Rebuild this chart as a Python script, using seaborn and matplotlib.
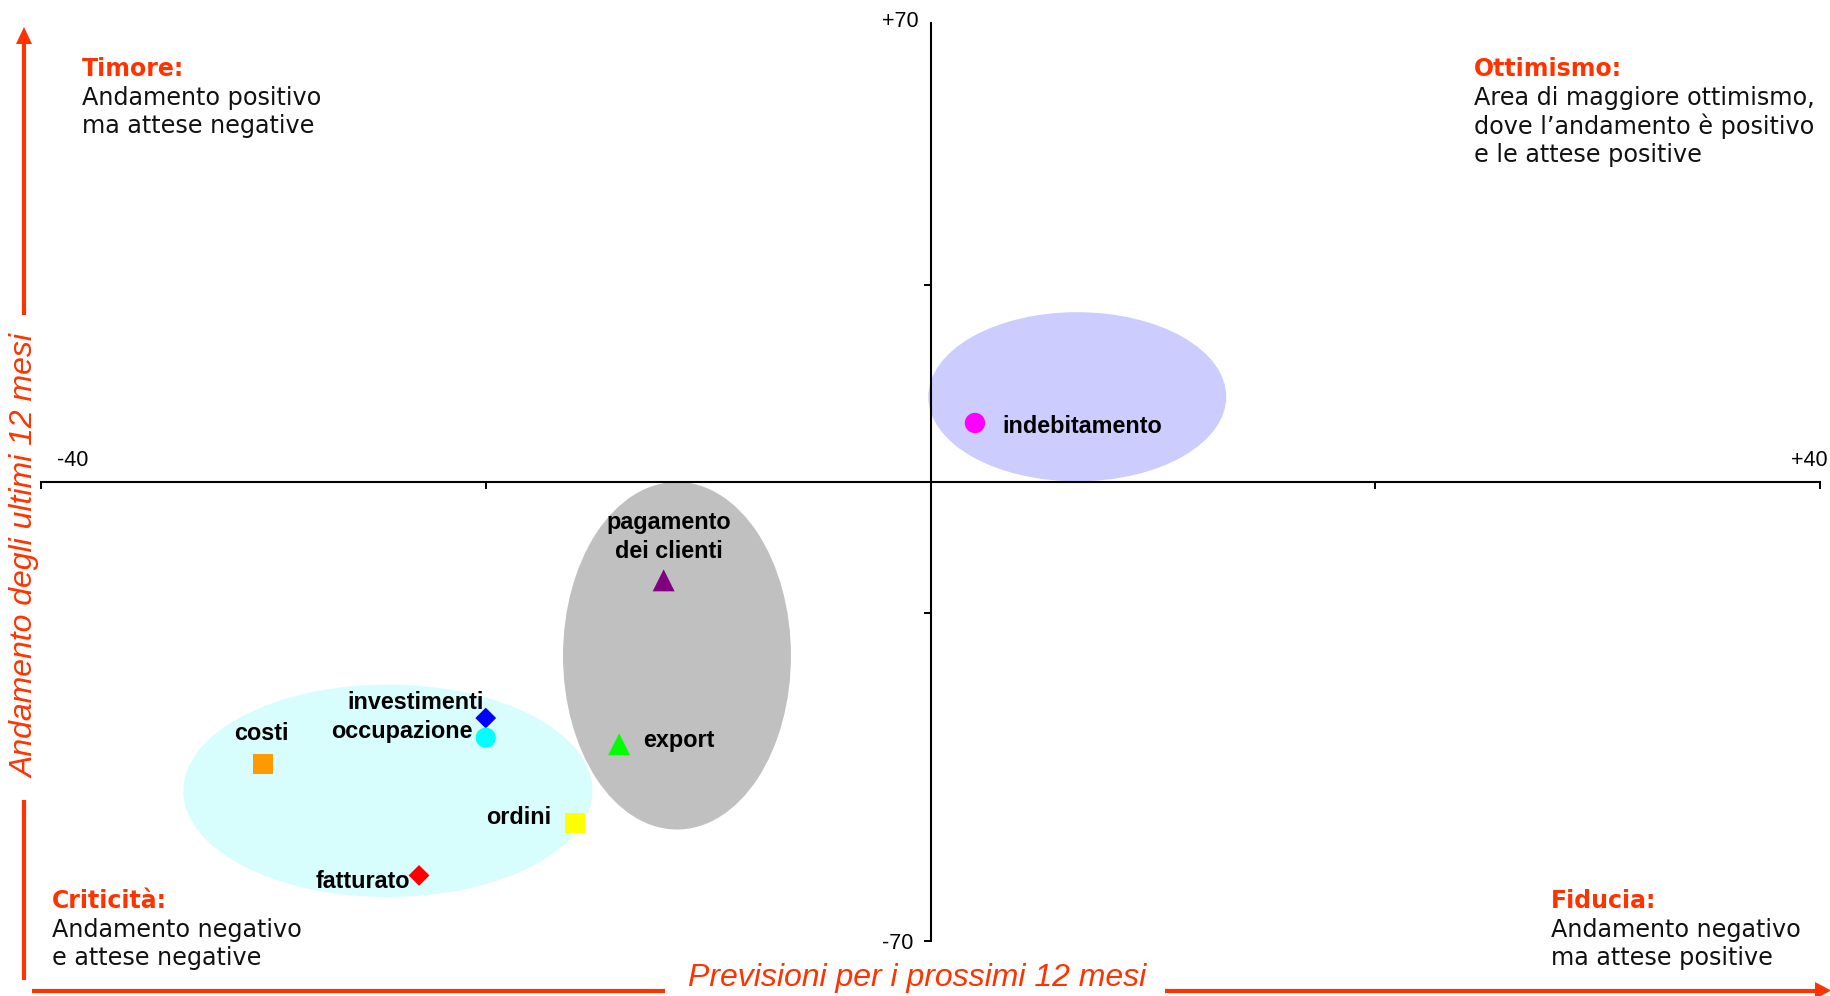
import matplotlib
matplotlib.use("Agg")
import matplotlib.pyplot as plt
from matplotlib.patches import Ellipse, Polygon
from matplotlib.lines import Line2D
import pandas as pd
import seaborn as sns

# Indicators: expectations for the next 12 months (x) vs. trend of the last 12 months (y)
indicatori = ["indebitamento", "pagamento\ndei clienti", "export", "investimenti",
              "occupazione", "costi", "ordini", "fatturato"]
previsioni = [2, -12, -14, -20, -20, -30, -16, -23]
andamento = [9, -15, -40, -36, -39, -43, -52, -60]

# Cluster areas (centre, width, height in data units)
aree_cx = [6.6, -11.4, -24.4]
aree_cy = [13.0, -26.5, -47.1]
aree_w = [13.4, 10.25, 18.4]
aree_h = [25.8, 53.0, 32.4]

x_ticks = [-40, -20, 0, 20, 40]
y_ticks = [-70, -20, 30]

# ---- styles ----
colori = dict(zip(indicatori, ["#FF00FF", "#800080", "#00FF00", "#0000FF",
                               "#00FFFF", "#FF9900", "#FFFF00", "#FF0000"]))
marcatori = dict(zip(indicatori, ["o", "^", "^", "D", "o", "s", "s", "D"]))
dimensioni = dict(zip(indicatori, [215, 250, 250, 112, 210, 205, 205, 112]))
aree_colori = ["#CCCCFF", "#C0C0C0", "#D7FDFD"]
# label offset in points and alignment per indicator
etichette = {
    "indebitamento": ((19.5, -2.5), "left"),
    "pagamento\ndei clienti": ((4, 31), "center"),
    "export": ((17, 3), "left"),
    "investimenti": ((-1.5, 11.5), "right"),
    "occupazione": ((-9.8, 4.3), "right"),
    "costi": ((-1.5, 22), "center"),
    "ordini": ((-17, 4), "right"),
    "fatturato": ((-6.5, -4.5), "right"),
}
ROSSO = "#FF3300"

sns.set_style("white")
plt.rcParams["font.family"] = ["DejaVu Sans"]

W, H = 1830, 996
fig = plt.figure(figsize=(W / 100, H / 100), dpi=100)
ax = fig.add_axes([41 / W, 55 / H, (1820 - 41) / W, (941 - 23) / H])
ax.set_xlim(-40, 40)
ax.set_ylim(-70, 70)

for cx, cy, w, h, c in zip(aree_cx, aree_cy, aree_w, aree_h, aree_colori):
    ax.add_patch(Ellipse((cx, cy), w, h, facecolor=c, edgecolor="none", zorder=1))

df = pd.DataFrame({"indicatore": indicatori, "previsioni": previsioni, "andamento": andamento})
sns.scatterplot(data=df, x="previsioni", y="andamento", hue="indicatore", style="indicatore",
                size="indicatore", palette=colori, markers=marcatori, sizes=dimensioni,
                linewidth=0, legend=False, ax=ax, zorder=4)

for nome, px_, py_ in zip(indicatori, previsioni, andamento):
    (dx, dy), ha = etichette[nome]
    ax.annotate(nome, (px_, py_), xytext=(dx, dy), textcoords="offset points",
                ha=ha, va="center", fontsize=16.8, fontweight="bold",
                family="Liberation Sans", color="black", linespacing=1.32,
                multialignment="center", zorder=5)

# quadrant axes crossing at the origin
for s in ["top", "right"]:
    ax.spines[s].set_visible(False)
ax.spines["left"].set_position(("data", 0))
ax.spines["bottom"].set_position(("data", 0))
for s in ["left", "bottom"]:
    ax.spines[s].set_linewidth(1.5)
    ax.spines[s].set_color("black")
    ax.spines[s].set_zorder(3)
ax.set_xticks(x_ticks)
ax.set_yticks(y_ticks)
ax.tick_params(axis="both", direction="out", length=5, width=1.4, color="black",
               labelleft=False, labelbottom=False, left=True, bottom=True)
ax.set_xlabel("")
ax.set_ylabel("")
ax.grid(False)
ax.patch.set_alpha(0)

# overlay in pixel coordinates for annotations and axis arrows
ov = fig.add_axes([0, 0, 1, 1])
ov.set_xlim(0, W)
ov.set_ylim(H, 0)
ov.axis("off")

num = dict(fontsize=15.5, family="Liberation Sans", color="black", va="center")
ov.text(73, 460, "-40", ha="center", **num)
ov.text(1809, 460, "+40", ha="center", **num)
ov.text(919, 21, "+70", ha="right", **num)
ov.text(913, 943, "-70", ha="right", **num)

def quadrante(x, y, titolo, righe):
    ov.text(x, y, titolo, ha="left", va="center", fontsize=17, fontweight="bold", color=ROSSO)
    for i, r in enumerate(righe):
        ov.text(x, y + 28.5 * (i + 1), r, ha="left", va="center", fontsize=17.2, color="#111111")

quadrante(82, 69, "Timore:", ["Andamento positivo", "ma attese negative"])
quadrante(1474, 69, "Ottimismo:", ["Area di maggiore ottimismo,",
                                   "dove l\u2019andamento è positivo",
                                   "e le attese positive"])
quadrante(52, 901, "Criticità:", ["Andamento negativo", "e attese negative"])
quadrante(1551, 901, "Fiducia:", ["Andamento negativo", "ma attese positive"])

# axis arrows with titles
lw = 3.0
ov.add_line(Line2D([24, 24], [980, 800], color=ROSSO, lw=lw, solid_capstyle="butt"))
ov.add_line(Line2D([24, 24], [315, 40], color=ROSSO, lw=lw, solid_capstyle="butt"))
ov.add_patch(Polygon([[24, 27], [16, 44], [32, 44]], closed=True, color=ROSSO, lw=0))
ov.add_line(Line2D([32, 665], [990.5, 990.5], color=ROSSO, lw=lw, solid_capstyle="butt"))
ov.add_line(Line2D([1165, 1818], [990.5, 990.5], color=ROSSO, lw=lw, solid_capstyle="butt"))
ov.add_patch(Polygon([[1831, 990.5], [1815, 982], [1815, 999]], closed=True, color=ROSSO, lw=0))

titolo = dict(fontsize=23, family="Liberation Sans", style="italic", color=ROSSO,
              ha="center", va="center")
ov.text(26, 556, "Andamento degli ultimi 12 mesi", rotation=90, **titolo)
ov.text(917, 978, "Previsioni per i prossimi 12 mesi", **titolo)

fig.savefig("out.png", dpi=100)
